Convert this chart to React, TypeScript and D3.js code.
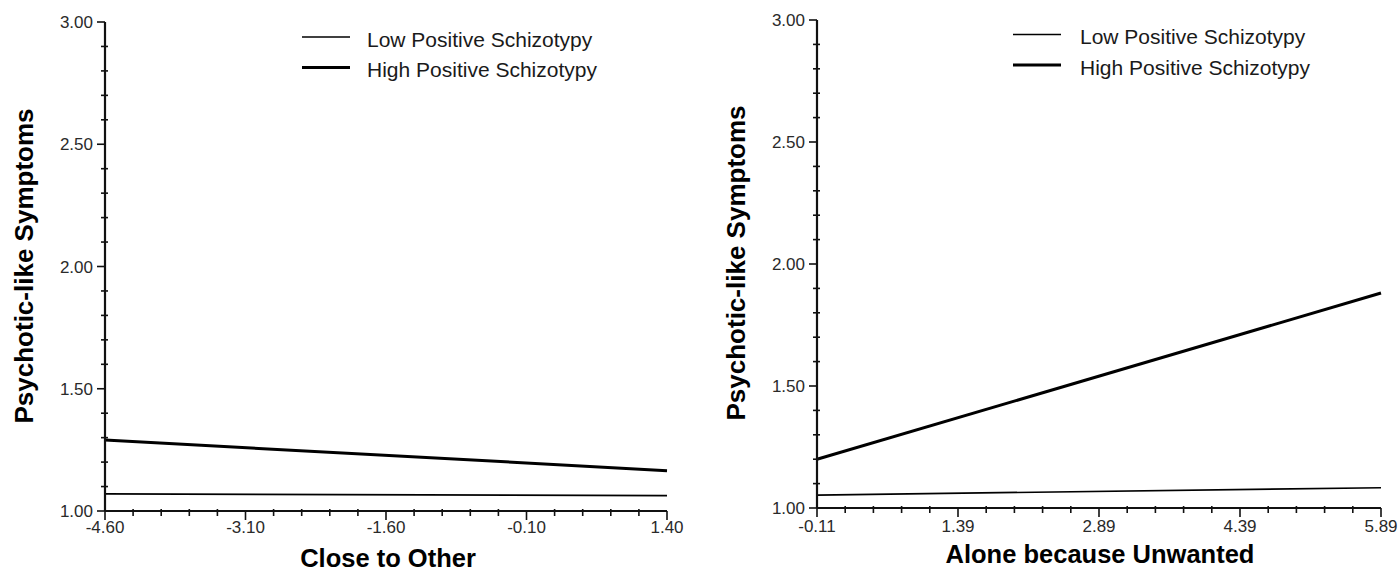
import React from "react";
import * as d3 from "d3";

const seriesNames = ["Low Positive Schizotypy", "High Positive Schizotypy"];
const seriesWidths = [1.7, 3];

const leftXTicks = [-4.6, -3.1, -1.6, -0.1, 1.4];
const leftLow = [1.07, 1.063];
const leftHigh = [1.29, 1.165];
const leftXTitle = "Close to Other";

const rightXTicks = [-0.11, 1.39, 2.89, 4.39, 5.89];
const rightLow = [1.053, 1.083];
const rightHigh = [1.2, 1.881];
const rightXTitle = "Alone because Unwanted";

const yTicks = [1.0, 1.5, 2.0, 2.5, 3.0];
const yTitle = "Psychotic-like Symptoms";

const FONT = "Arial, 'Liberation Sans', Helvetica, sans-serif";

type PanelProps = {
  x0: number; x1: number; y0: number; y1: number;
  xTicks: number[]; low: number[]; high: number[];
  xTitle: string; xTitleX: number; xTitleY: number; yTitleX: number; yTitleY: number;
  legendX: number; legendY: number; legendTextX: number; xLabelY: number;
};

function Panel(p: PanelProps) {
  const xs = d3.scaleLinear().domain([p.xTicks[0], p.xTicks[p.xTicks.length - 1]]).range([p.x0, p.x1]);
  const ys = d3.scaleLinear().domain([1, 3]).range([p.y0, p.y1]);
  const xStep = (p.xTicks[1] - p.xTicks[0]) / 5;
  const xMinor = d3.range(0, 21).map((i) => p.xTicks[0] + i * xStep).filter((_, i) => i % 5 !== 0);
  const yMinor = d3.range(0, 21).map((i) => 1 + i * 0.1).filter((_, i) => i % 5 !== 0);
  const line = d3.line<[number, number]>().x((d) => xs(d[0])).y((d) => ys(d[1]));
  const ends = [p.xTicks[0], p.xTicks[p.xTicks.length - 1]];
  const series = [p.low, p.high];
  return (
    <g>
      {series.map((s, i) => (
        <path key={i} d={line(ends.map((x, j) => [x, s[j]]) as [number, number][]) || ""}
          fill="none" stroke="#000" strokeWidth={seriesWidths[i]} />
      ))}
      <line x1={p.x0} x2={p.x0} y1={ys(3)} y2={ys(1)} stroke="#111" strokeWidth={2.2} />
      {yTicks.map((t) => (
        <g key={t}>
          <line x1={p.x0 - 8} x2={p.x0} y1={ys(t)} y2={ys(t)} stroke="#111" strokeWidth={1.6} />
          <text x={p.x0 - 12} y={ys(t)} dy="0.36em" textAnchor="end" fontSize={17} fill="#2a2a2a" fontFamily={FONT}>{t.toFixed(2)}</text>
        </g>
      ))}
      {yMinor.map((t, i) => (
        <line key={i} x1={p.x0 - 4} x2={p.x0 + 3} y1={ys(t)} y2={ys(t)} stroke="#111" strokeWidth={1.6} />
      ))}
      <line x1={p.x0} x2={p.x1} y1={ys(1)} y2={ys(1)} stroke="#111" strokeWidth={2.2} />
      {p.xTicks.map((t) => (
        <g key={t}>
          <line x1={xs(t)} x2={xs(t)} y1={ys(1)} y2={ys(1) + 9} stroke="#111" strokeWidth={1.6} />
          <text x={xs(t)} y={p.xLabelY} textAnchor="middle" fontSize={17} fill="#2a2a2a" fontFamily={FONT}>{t.toFixed(2)}</text>
        </g>
      ))}
      {xMinor.map((t, i) => (
        <line key={i} x1={xs(t)} x2={xs(t)} y1={ys(1) - 2} y2={ys(1) + 5} stroke="#111" strokeWidth={1.6} />
      ))}
      <text x={p.xTitleX} y={p.xTitleY} textAnchor="middle" fontSize={25.5} fontWeight="bold" fontFamily={FONT} fill="#000">{p.xTitle}</text>
      <text transform={`translate(${p.yTitleX},${p.yTitleY}) rotate(-90)`} textAnchor="middle" fontSize={26} fontWeight="bold" fontFamily={FONT} fill="#000">{yTitle}</text>
      {seriesNames.map((n, i) => (
        <g key={n}>
          <line x1={p.legendX} x2={p.legendX + 48} y1={p.legendY + i * 30.5} y2={p.legendY + i * 30.5} stroke="#000" strokeWidth={seriesWidths[i]} />
          <text x={p.legendTextX} y={p.legendY + i * 30.5 + 9.5} fontSize={21} fill="#1a1a1a" fontFamily={FONT}>{n}</text>
        </g>
      ))}
    </g>
  );
}

export default function App() {
  return (
    <svg width={1398} height={571} style={{ position: "absolute", left: 0, top: 0, background: "#fff" }}>
      <rect width={1398} height={571} fill="#fff" />
      <Panel x0={105} x1={667} y0={511} y1={22} xTicks={leftXTicks} low={leftLow} high={leftHigh}
        xTitle={leftXTitle} xTitleX={388} xTitleY={567} yTitleX={33} yTitleY={266}
        legendX={302} legendY={37} legendTextX={367} xLabelY={533} />
      <Panel x0={817} x1={1381} y0={508} y1={20} xTicks={rightXTicks} low={rightLow} high={rightHigh}
        xTitle={rightXTitle} xTitleX={1100} xTitleY={563} yTitleX={745} yTitleY={263}
        legendX={1013} legendY={34.5} legendTextX={1080} xLabelY={532} />
    </svg>
  );
}
